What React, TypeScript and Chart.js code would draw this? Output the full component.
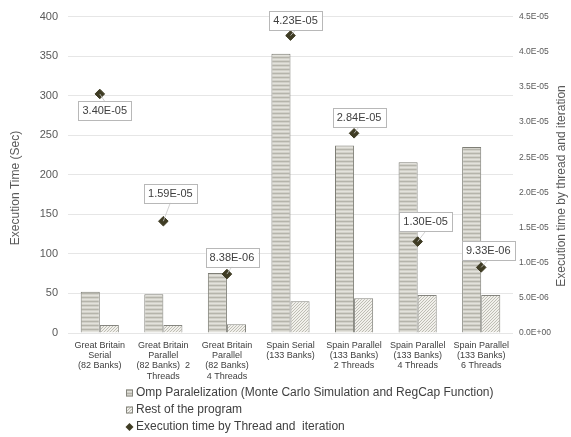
import React, { useEffect, useRef } from "react";
import { Chart, registerables } from "chart.js";

Chart.register(...registerables);

const categories: string[][] = [
  ["Great Britain", "Serial", "(82 Banks)"],
  ["Great Britain", "Parallel", "(82 Banks)  2", "Threads"],
  ["Great Britain", "Parallel", "(82 Banks)", "4 Threads"],
  ["Spain Serial", "(133 Banks)"],
  ["Spain Parallel", "(133 Banks)", "2 Threads"],
  ["Spain Parallel", "(133 Banks)", "4 Threads"],
  ["Spain Parallel", "(133 Banks)", "6 Threads"],
];

const ompValues = [52, 49, 76, 353, 237, 216, 235];
const restValues = [10, 10, 11, 40, 44, 48, 48];
const perThreadValues = [3.4e-5, 1.59e-5, 8.38e-6, 4.23e-5, 2.84e-5, 1.3e-5, 9.33e-6];

const seriesNames = [
  "Omp Paralelization (Monte Carlo Simulation and RegCap Function)",
  "Rest of the program",
  "Execution time by Thread and  iteration",
];

const leftTitle = "Execution Time (Sec)";
const rightTitle = "Execution time by thread and iteration";

// label box offsets (style)
const labelOffsets = [
  [5, 17],
  [7, -28],
  [5, -17],
  [5, -15],
  [5, -16],
  [8, -20],
  [7, -17],
];

const FONT = "'Liberation Sans', Arial, sans-serif";
const TEXT = "#404040";
const TICK = "#595959";
const MARK = "#3f3c24";

function sci(v: number, digits: number): string {
  if (v === 0) return (0).toFixed(digits) + "E+00";
  const s = v.toExponential(digits);
  const [m, e] = s.split("e");
  const n = parseInt(e, 10);
  const sign = n < 0 ? "-" : "+";
  const abs = Math.abs(n);
  return m.toUpperCase() + "E" + sign + (abs < 10 ? "0" + abs : String(abs));
}

function makeStripe(): CanvasPattern | string {
  const c = document.createElement("canvas");
  c.width = 4;
  c.height = 4;
  const g = c.getContext("2d");
  if (!g) return "#cfcec6";
  g.fillStyle = "#d2d1c9";
  g.fillRect(0, 0, 4, 4);
  g.fillStyle = "#b5b4ab";
  g.fillRect(0, 1, 4, 1);
  g.fillStyle = "#e3e2dc";
  g.fillRect(0, 3, 4, 1);
  return g.createPattern(c, "repeat") || "#cfcec6";
}

function makeDots(): CanvasPattern | string {
  const c = document.createElement("canvas");
  c.width = 3;
  c.height = 3;
  const g = c.getContext("2d");
  if (!g) return "#eeede8";
  g.fillStyle = "#f1f0eb";
  g.fillRect(0, 0, 3, 3);
  g.fillStyle = "#bebdb4";
  g.fillRect(0, 0, 1, 1);
  g.fillRect(2, 1, 1, 1);
  g.fillRect(1, 2, 1, 1);
  return g.createPattern(c, "repeat") || "#eeede8";
}

export default function App() {
  const ref = useRef<HTMLCanvasElement | null>(null);

  useEffect(() => {
    const canvas = ref.current;
    if (!canvas) return;
    const stripe = makeStripe();
    const dots = makeDots();

    const overlay = {
      id: "overlay",
      afterDatasetsDraw(chart: any) {
        const ctx = chart.ctx;
        const meta = chart.getDatasetMeta(0);
        ctx.save();
        ctx.font = `11px ${FONT}`;
        ctx.textAlign = "center";
        ctx.textBaseline = "middle";
        meta.data.forEach((pt: any, i: number) => {
          const [dx, dy] = labelOffsets[i];
          const text = sci(perThreadValues[i], 2);
          const w = ctx.measureText(text).width + 8;
          const h = 19;
          const cx = pt.x + dx;
          const cy = pt.y + dy;
          ctx.strokeStyle = "#c8c8c8";
          ctx.lineWidth = 0.8;
          ctx.beginPath();
          ctx.moveTo(pt.x, pt.y);
          ctx.lineTo(cx, dy > 0 ? cy - h / 2 : cy + h / 2);
          ctx.stroke();
          ctx.fillStyle = "#ffffff";
          ctx.fillRect(cx - w / 2, cy - h / 2, w, h);
          ctx.strokeStyle = "#b8b8b8";
          ctx.lineWidth = 1;
          ctx.strokeRect(Math.round(cx - w / 2) + 0.5, Math.round(cy - h / 2) + 0.5, Math.round(w), h);
          ctx.fillStyle = TEXT;
          ctx.fillText(text, cx, cy + 0.5);
        });
        ctx.restore();
      },
      afterDraw(chart: any) {
        const ctx = chart.ctx;
        ctx.save();
        ctx.fillStyle = TICK;
        ctx.font = `12px ${FONT}`;
        ctx.textAlign = "center";
        ctx.textBaseline = "middle";
        ctx.save();
        ctx.translate(16, 188);
        ctx.rotate(-Math.PI / 2);
        ctx.fillText(leftTitle, 0, 0);
        ctx.restore();
        ctx.save();
        ctx.translate(562, 186);
        ctx.rotate(-Math.PI / 2);
        ctx.fillText(rightTitle, 0, 0);
        ctx.restore();

        const lx = 126;
        const rows = [393, 410, 427];
        ctx.font = `12px ${FONT}`;
        ctx.textAlign = "left";
        rows.forEach((y, i) => {
          if (i === 0 || i === 1) {
            ctx.fillStyle = (i === 0 ? stripe : dots) as any;
            ctx.fillRect(lx, y - 3.5, 7, 7);
            ctx.strokeStyle = "#85857d";
            ctx.lineWidth = 1;
            ctx.strokeRect(lx + 0.5, y - 3.5 + 0.5, 6, 6);
          } else {
            ctx.fillStyle = MARK;
            ctx.beginPath();
            ctx.moveTo(lx + 3.5, y - 4);
            ctx.lineTo(lx + 7.5, y);
            ctx.lineTo(lx + 3.5, y + 4);
            ctx.lineTo(lx - 0.5, y);
            ctx.closePath();
            ctx.fill();
          }
          ctx.fillStyle = TEXT;
          ctx.fillText(seriesNames[i], lx + 10, y);
        });
        ctx.restore();
      },
    };

    const chart = new Chart(canvas, {
      type: "bar",
      data: {
        labels: categories as any,
        datasets: [
          {
            type: "line",
            label: seriesNames[2],
            data: perThreadValues,
            yAxisID: "y1",
            showLine: false,
            pointStyle: "rectRot",
            pointRadius: 4.8,
            pointBackgroundColor: MARK,
            pointBorderColor: MARK,
            order: 0,
          } as any,
          {
            label: seriesNames[0],
            data: ompValues,
            yAxisID: "y",
            backgroundColor: stripe as any,
            borderColor: "#7e7e76",
            borderWidth: 1,
            categoryPercentage: 0.6,
            barPercentage: 1.0,
            order: 1,
          },
          {
            label: seriesNames[1],
            data: restValues,
            yAxisID: "y",
            backgroundColor: dots as any,
            borderColor: "#85857f",
            borderWidth: 1,
            categoryPercentage: 0.6,
            barPercentage: 1.0,
            order: 1,
          },
        ],
      },
      options: {
        animation: false,
        responsive: true,
        maintainAspectRatio: false,
        layout: { padding: { top: 16, left: 0, right: 0, bottom: 0 } },
        plugins: {
          legend: { display: false },
          tooltip: { enabled: false },
        },
        scales: {
          x: {
            grid: { display: false, drawTicks: false },
            border: { display: false },
            ticks: {
              maxRotation: 0,
              autoSkip: false,
              padding: 7,
              color: TEXT,
              font: { family: FONT, size: 9, lineHeight: 1.15 },
            },
            afterFit(scale: any) {
              scale.height = 104;
            },
          },
          y: {
            position: "left",
            min: 0,
            max: 400,
            ticks: {
              stepSize: 50,
              padding: 10,
              color: TICK,
              font: { family: FONT, size: 11 },
            },
            grid: { color: "#e6e6e6", drawTicks: false },
            border: { display: false },
            afterFit(scale: any) {
              scale.width = 68;
            },
          },
          y1: {
            position: "right",
            min: 0,
            max: 4.5e-5,
            ticks: {
              stepSize: 5e-6,
              padding: 6,
              color: TICK,
              font: { family: FONT, size: 8.5 },
              callback: (v: any) => sci(Number(v), 1),
            },
            grid: { display: false, drawTicks: false },
            border: { display: false },
            afterFit(scale: any) {
              scale.width = 58;
            },
          },
        },
      },
      plugins: [overlay],
    });
    return () => chart.destroy();
  }, []);

  return (
    <div style={{ position: "absolute", left: 0, top: 0, width: 571, height: 437, background: "#fff" }}>
      <canvas ref={ref} />
    </div>
  );
}
